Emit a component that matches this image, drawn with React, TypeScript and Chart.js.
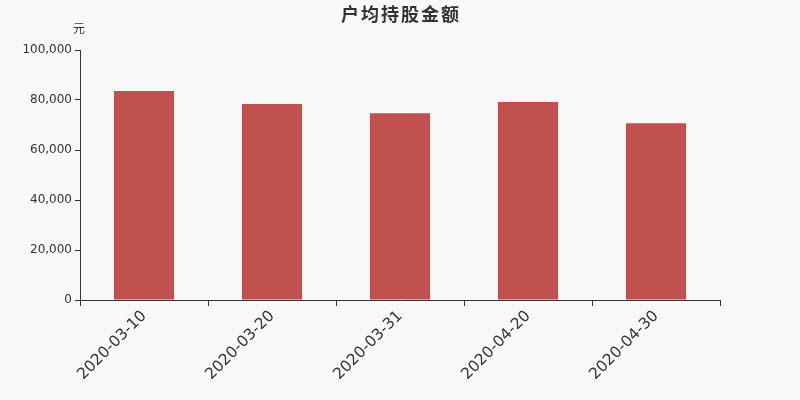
import { useEffect, useRef } from 'react';
import { Chart, registerables } from 'chart.js';

Chart.register(...registerables);

const categories = ['2020-03-10', '2020-03-20', '2020-03-31', '2020-04-20', '2020-04-30'];
const values = [83600, 78400, 74700, 79200, 70700];
const yTicks = [0, 20000, 40000, 60000, 80000, 100000];

const TEXT = '#333333';
const FONT = '"DejaVu Sans", sans-serif';

const headerPlugin = {
  id: 'header',
  afterDraw(chart: Chart) {
    const { ctx } = chart;
    ctx.save();
    ctx.fillStyle = TEXT;
    ctx.textAlign = 'center';
    ctx.textBaseline = 'middle';
    ctx.font = `bold 18px "Noto Sans CJK SC", sans-serif`;
    (ctx as any).letterSpacing = '2px';
    ctx.fillText('户均持股金额', 401, 14);
    (ctx as any).letterSpacing = '0px';
    ctx.font = `12px "Noto Sans CJK SC", sans-serif`;
    ctx.fillText('元', 79, 28);
    ctx.restore();
  },
};

export default function App() {
  const canvasRef = useRef<HTMLCanvasElement>(null);
  const chartRef = useRef<Chart | null>(null);

  useEffect(() => {
    if (!canvasRef.current) return;
    chartRef.current?.destroy();

    chartRef.current = new Chart(canvasRef.current, {
      type: 'bar',
      data: {
        labels: categories,
        datasets: [
          {
            label: '户均持股金额',
            data: values,
            backgroundColor: '#c0504d',
            barPercentage: 0.47,
            categoryPercentage: 1,
          },
        ],
      },
      options: {
        animation: false,
        responsive: true,
        maintainAspectRatio: false,
        layout: { padding: { top: 50, right: 80, left: 0, bottom: 0 } },
        plugins: {
          legend: { display: false },
          title: { display: false },
          tooltip: { enabled: false },
        },
        scales: {
          x: {
            afterFit: (s: any) => {
              s.height = 100;
            },
            grid: {
              display: true,
              drawOnChartArea: false,
              drawTicks: true,
              tickLength: 6,
              color: TEXT,
              offset: true,
            },
            border: { display: true, color: TEXT, width: 1 },
            ticks: {
              color: TEXT,
              font: { family: FONT, size: 15.5 },
              minRotation: 45,
              maxRotation: 45,
              padding: 1,
            },
          },
          y: {
            min: 0,
            max: 100000,
            afterFit: (s: any) => {
              s.width = 80;
            },
            afterBuildTicks: (s: any) => {
              s.ticks = yTicks.map((v) => ({ value: v }));
            },
            grid: {
              display: true,
              drawOnChartArea: false,
              drawTicks: true,
              tickLength: 5,
              color: TEXT,
            },
            border: { display: true, color: TEXT, width: 1 },
            ticks: {
              color: TEXT,
              font: { family: FONT, size: 12 },
              padding: 3,
              callback: (v) => Number(v).toLocaleString('en-US'),
            },
          },
        },
      },
      plugins: [headerPlugin],
    });

    return () => {
      chartRef.current?.destroy();
    };
  }, []);

  return (
    <div
      style={{
        position: 'fixed',
        left: 0,
        top: 0,
        width: 800,
        height: 400,
        background: '#f8f8f8',
      }}
    >
      <canvas ref={canvasRef} />
    </div>
  );
}
